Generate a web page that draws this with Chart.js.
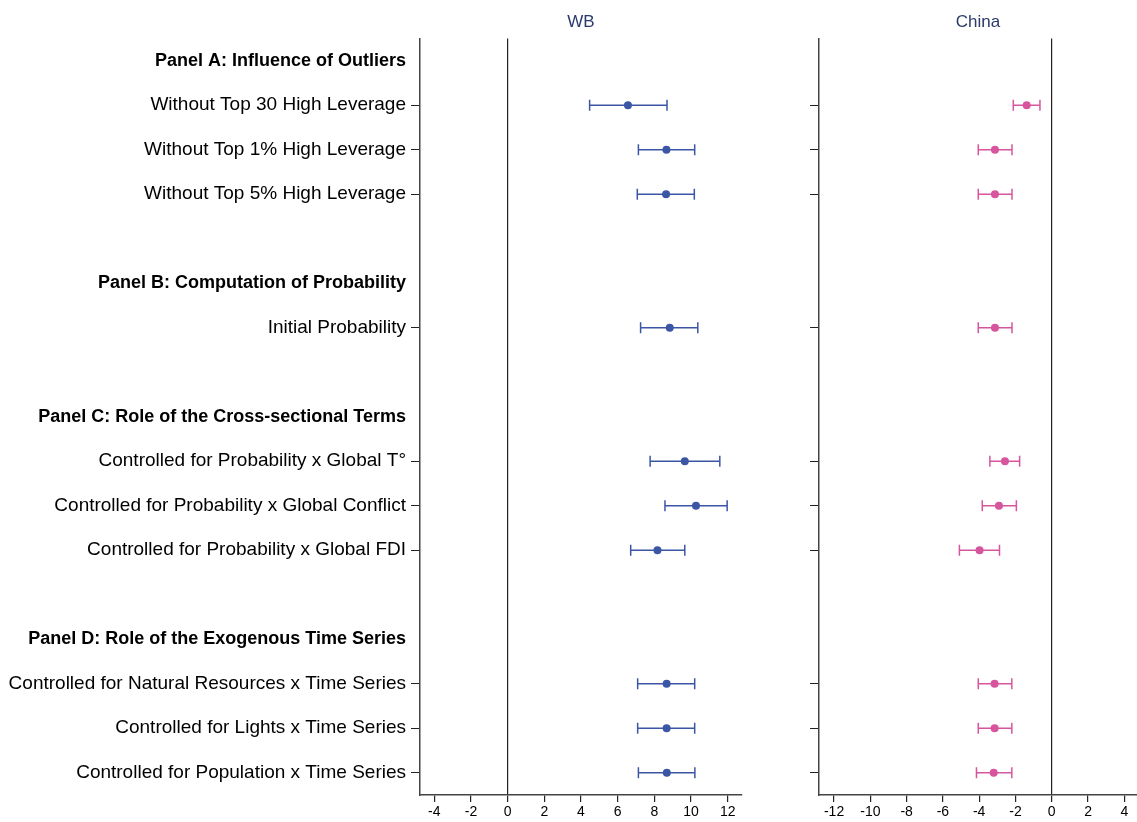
<!DOCTYPE html>
<html lang="en">
<head>
  <meta charset="UTF-8">
  <title>Robustness checks: WB and China</title>
  <script src="https://cdn.jsdelivr.net/npm/chart.js"></script>
  <style>
    body {
      margin: 0;
      background: #fff;
      overflow: hidden;
    }
    #wrap {
      position: relative;
      width: 1137px;
      height: 822px;
      overflow: hidden;
    }
    #wbChart, #chinaChart {
      position: absolute;
      top: 0;
    }
    #wbChart { left: 0; }
    #chinaChart { left: 760px; }
  </style>
</head>
<body>
  <div id="wrap">
    <canvas id="wbChart" width="760" height="822"></canvas>
    <canvas id="chinaChart" width="384" height="822"></canvas>
  </div>

  <script>
    // rows top to bottom; empty strings are spacer rows
    const rowLabels = [
      'Panel A: Influence of Outliers',
      'Without Top 30 High Leverage',
      'Without Top 1% High Leverage',
      'Without Top 5% High Leverage',
      '',
      'Panel B: Computation of Probability',
      'Initial Probability',
      '',
      'Panel C: Role of the Cross-sectional Terms',
      'Controlled for Probability x Global T°',
      'Controlled for Probability x Global Conflict',
      'Controlled for Probability x Global FDI',
      '',
      'Panel D: Role of the Exogenous Time Series',
      'Controlled for Natural Resources x Time Series',
      'Controlled for Lights x Time Series',
      'Controlled for Population x Time Series'
    ];
    const headerRows = [0, 5, 8, 13];
    const dataRows = [1, 2, 3, 6, 9, 10, 11, 14, 15, 16];

    const wbCoef = [6.56, 8.66, 8.64, 8.84, 9.66, 10.27, 8.17, 8.67, 8.67, 8.68];
    const wbLow  = [4.47, 7.13, 7.07, 7.25, 7.77, 8.58, 6.71, 7.09, 7.09, 7.13];
    const wbHigh = [8.69, 10.20, 10.18, 10.37, 11.57, 11.97, 9.66, 10.20, 10.20, 10.21];

    const chinaCoef = [-1.38, -3.13, -3.13, -3.13, -2.58, -2.91, -3.98, -3.15, -3.15, -3.20];
    const chinaLow  = [-2.12, -4.05, -4.05, -4.05, -3.41, -3.83, -5.09, -4.05, -4.05, -4.15];
    const chinaHigh = [-0.65, -2.19, -2.19, -2.19, -1.77, -1.95, -2.88, -2.20, -2.20, -2.20];

    const wbTicks = [-4, -2, 0, 2, 4, 6, 8, 10, 12];
    const chinaTicks = [-12, -10, -8, -6, -4, -2, 0, 2, 4];

    Chart.defaults.font.family = "'Liberation Sans', Arial, sans-serif";
    Chart.defaults.color = '#000';

    function buildDatasets(coef, low, high, color) {
      const sets = [{
        data: dataRows.map((r, i) => ({ x: coef[i], y: r })),
        pointRadius: 4,
        pointStyle: 'circle',
        backgroundColor: color,
        borderColor: color,
        borderWidth: 0,
        showLine: false
      }];
      dataRows.forEach((r, i) => {
        sets.push({
          data: [{ x: low[i], y: r }, { x: high[i], y: r }],
          showLine: true,
          borderColor: color,
          borderWidth: 1.5,
          pointStyle: 'line',
          rotation: 90,
          pointRadius: 5.5,
          pointBorderColor: color,
          pointBorderWidth: 1.5
        });
      });
      return sets;
    }

    function makeChart(id, title, sets, xMin, xMax, xTicks, yWidth, showLabels, padRight) {
      return new Chart(document.getElementById(id), {
        type: 'scatter',
        data: { datasets: sets },
        options: {
          responsive: false,
          animation: false,
          events: [],
          layout: { padding: { left: 0, right: padRight, top: 0, bottom: 0 } },
          plugins: {
            legend: { display: false },
            tooltip: { enabled: false },
            title: {
              display: true,
              text: title,
              fullSize: false,
              color: '#2b3a6b',
              font: { size: 17, weight: 'normal' },
              padding: { top: 12, bottom: 6 }
            }
          },
          scales: {
            x: {
              type: 'linear',
              min: xMin,
              max: xMax,
              afterBuildTicks: s => { s.ticks = xTicks.map(v => ({ value: v })); },
              afterFit: s => { s.height = 27; },
              grid: {
                drawOnChartArea: true,
                color: ctx => (ctx.tick && ctx.tick.value === 0) ? '#222' : 'rgba(0,0,0,0)',
                lineWidth: 1.2,
                tickColor: '#222',
                tickLength: 7
              },
              border: { display: true, color: '#444', width: 1.5 },
              ticks: { font: { size: 14 }, color: '#000', padding: 2, maxRotation: 0 }
            },
            y: {
              type: 'linear',
              reverse: true,
              min: -0.5,
              max: 16.5,
              afterBuildTicks: s => { s.ticks = rowLabels.map((_, i) => ({ value: i })); },
              afterFit: s => { s.width = yWidth; },
              grid: {
                drawOnChartArea: false,
                tickLength: 9,
                tickColor: ctx => (ctx.tick && dataRows.includes(ctx.tick.value)) ? '#222' : 'rgba(0,0,0,0)'
              },
              border: { display: true, color: '#444', width: 1.5 },
              ticks: {
                autoSkip: false,
                padding: 5,
                color: '#000',
                callback: v => showLabels ? (rowLabels[v] || '') : '',
                font: ctx => {
                  const head = ctx.tick && headerRows.includes(ctx.tick.value);
                  return { size: head ? 18 : 19, weight: head ? 'bold' : 'normal' };
                }
              }
            }
          }
        }
      });
    }

    makeChart('wbChart', 'WB', buildDatasets(wbCoef, wbLow, wbHigh, '#3B56A5'),
      -4.78, 12.78, wbTicks, 420, true, 18);
    makeChart('chinaChart', 'China', buildDatasets(chinaCoef, chinaLow, chinaHigh, '#D6559D'),
      -12.83, 4.7, chinaTicks, 59, false, 0);
  </script>
</body>
</html>
